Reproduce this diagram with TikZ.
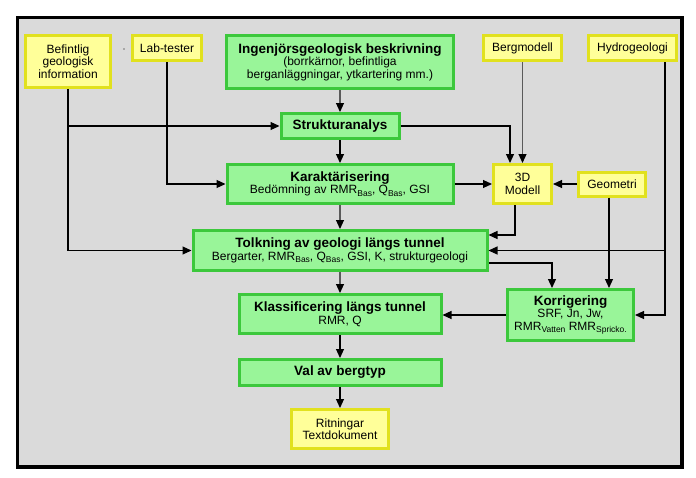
\documentclass[tikz,border=0pt]{standalone}
\usepackage{fontspec}
\setmainfont{Liberation Sans}
\usetikzlibrary{arrows.meta,calc}
\definecolor{gfill}{RGB}{153,245,153}
\definecolor{gdraw}{RGB}{60,200,60}
\definecolor{yfill}{RGB}{255,255,153}
\definecolor{ydraw}{RGB}{225,225,30}
\definecolor{bgc}{RGB}{218,218,218}
\definecolor{lgray}{RGB}{90,90,90}
\newcommand{\sbs}[1]{\raisebox{-0.35ex}{\fontsize{8.5}{8.5}\selectfont #1}}
\newcommand{\bt}{\fontsize{13.5}{13.5}\selectfont\bfseries}
\begin{document}
\begin{tikzpicture}[x=1pt,y=-1pt,
  gbox/.style={draw=gdraw, fill=gfill, line width=3pt, inner sep=0pt, align=center, font=\fontsize{12}{12.5}\selectfont},
  ybox/.style={draw=ydraw, fill=yfill, line width=3pt, inner sep=0pt, align=center, font=\fontsize{12}{12.5}\selectfont},
  arr/.style={line width=1.1pt, -{Triangle[length=9pt,width=8pt,black]}},
  garr/.style={arr, draw=lgray}]
\useasboundingbox[fill=white] (0,0) rectangle (696,477);
\draw[line width=3.5pt, fill=bgc] (17.5,17.5) rectangle (682,467);
\fill (124,49) circle (0.7);

\node[ybox, minimum width=85, minimum height=52] (bef) at (68,61.5) {Befintlig\\geologisk\\information};
\node[ybox, minimum width=69, minimum height=25] (lab) at (167,48) {Lab-tester};
\node[gbox, minimum width=227, minimum height=53] (ing) at (340,62) {{\bt Ingenjörsgeologisk beskrivning}\\(borrkärnor, befintliga\\berganläggningar, ytkartering mm.)};
\node[ybox, minimum width=78, minimum height=25] (berg) at (522.5,48) {Bergmodell};
\node[ybox, minimum width=88, minimum height=25] (hyd) at (632.5,48) {Hydrogeologi};
\node[gbox, minimum width=118, minimum height=25] (str) at (340,126) {\bt Strukturanalys};
\node[gbox, minimum width=226, minimum height=39] (kar) at (340,184) {{\bt Karaktärisering}\\Bedömning av RMR\sbs{Bas}, Q\sbs{Bas}, GSI};
\node[ybox, minimum width=58, minimum height=39] (mod) at (522.5,184) {3D\\Modell};
\node[ybox, minimum width=67, minimum height=24] (geo) at (612,184) {Geometri};
\node[gbox, minimum width=294, minimum height=40] (tol) at (340,250.5) {{\bt Tolkning av geologi längs tunnel}\\Bergarter, RMR\sbs{Bas}, Q\sbs{Bas}, GSI, K, strukturgeologi};
\node[gbox, minimum width=202, minimum height=39] (kla) at (340,314) {{\bt Klassificering längs tunnel}\\RMR, Q};
\node[gbox, minimum width=202, minimum height=26] (val) at (340,372.5) {\bt Val av bergtyp};
\node[ybox, minimum width=97, minimum height=39] (rit) at (340,429) {Ritningar\\Textdokument};
\node[gbox, minimum width=126, minimum height=51] (kor) at (570.5,315) {{\bt Korrigering}\\SRF, Jn, Jw,\\RMR\sbs{Vatten} RMR\sbs{Spricko.}};

% main chain
\draw[garr] (ing) -- (str);
\draw[arr] (str) -- (kar);
\draw[garr] (kar) -- (tol);
\draw[garr] (tol) -- (kla);
\draw[arr] (kla) -- (val);
\draw[arr] (val) -- (rit);

% left inputs
\draw[arr] (bef.south) |- (tol.west);
\draw[arr] (bef.south |- str.west) -- (str.west);
\draw[arr] (lab.south) |- (kar.west);

% 3D model
\coordinate (mt) at ($(mod.north)+(-12.5,0)$);
\draw[arr] (str.east) -| (mt);
\draw[garr] (berg) -- (mod);
\draw[arr] (kar) -- (mod);
\draw[arr] (geo.west) -- (geo.west -| mod.east);
\coordinate (mb) at ($(mod.south)+(-7.5,0)$);
\coordinate (te) at ($(tol.north east)+(0,6)$);
\draw[arr] (mb) |- (te);

% right side
\coordinate (hb) at ($(hyd.south)+(32.5,0)$);
\draw[arr] (hb) |- (kor.east);
\draw[arr] (hb |- tol.east) -- (tol.east);
\coordinate (gb) at ($(geo.south)+(-3,0)$);
\draw[arr] (gb) -- (gb |- kor.north);
\coordinate (tb) at ($(tol.south east)+(0,-9)$);
\coordinate (kt) at ($(kor.north west)+(46,0)$);
\draw[arr] (tb) -| (kt);
\draw[arr] (kor.west) -- (kor.west -| kla.east);
\end{tikzpicture}
\end{document}
